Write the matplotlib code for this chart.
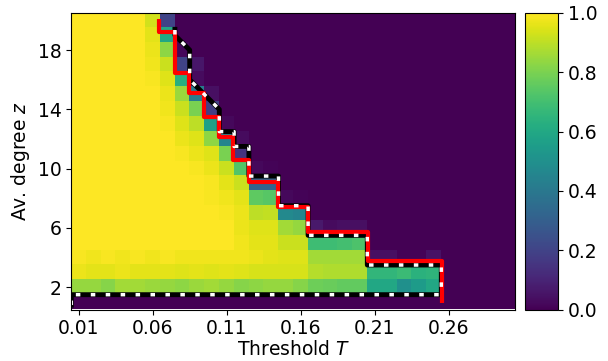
import numpy as np
import matplotlib.pyplot as plt

# threshold T (columns) and average degree z (rows)
T_vals = [0.01, 0.02, 0.03, 0.04, 0.05, 0.06, 0.07, 0.08, 0.09, 0.10,
          0.11, 0.12, 0.13, 0.14, 0.15, 0.16, 0.17, 0.18, 0.19, 0.20,
          0.21, 0.22, 0.23, 0.24, 0.25, 0.26, 0.27, 0.28, 0.29, 0.30]
z_vals = list(range(1, 21))

# cascade size, rows listed from z=20 (top) down to z=1 (bottom)
cascade_rows = [
    [1.00, 1.00, 1.00, 1.00, 1.00, 0.93, 0.20, 0.00, 0.00, 0.00, 0.00, 0.00, 0.00, 0.00, 0.00, 0.00, 0.00, 0.00, 0.00, 0.00, 0.00, 0.00, 0.00, 0.00, 0.00, 0.00, 0.00, 0.00, 0.00, 0.00],  # z=20
    [1.00, 1.00, 1.00, 1.00, 1.00, 0.96, 0.60, 0.00, 0.00, 0.00, 0.00, 0.00, 0.00, 0.00, 0.00, 0.00, 0.00, 0.00, 0.00, 0.00, 0.00, 0.00, 0.00, 0.00, 0.00, 0.00, 0.00, 0.00, 0.00, 0.00],  # z=19
    [1.00, 1.00, 1.00, 1.00, 1.00, 0.97, 0.83, 0.02, 0.00, 0.00, 0.00, 0.00, 0.00, 0.00, 0.00, 0.00, 0.00, 0.00, 0.00, 0.00, 0.00, 0.00, 0.00, 0.00, 0.00, 0.00, 0.00, 0.00, 0.00, 0.00],  # z=18
    [1.00, 1.00, 1.00, 1.00, 1.00, 0.98, 0.92, 0.20, 0.06, 0.00, 0.00, 0.00, 0.00, 0.00, 0.00, 0.00, 0.00, 0.00, 0.00, 0.00, 0.00, 0.00, 0.00, 0.00, 0.00, 0.00, 0.00, 0.00, 0.00, 0.00],  # z=17
    [1.00, 1.00, 1.00, 1.00, 1.00, 0.99, 0.95, 0.63, 0.03, 0.00, 0.00, 0.00, 0.00, 0.00, 0.00, 0.00, 0.00, 0.00, 0.00, 0.00, 0.00, 0.00, 0.00, 0.00, 0.00, 0.00, 0.00, 0.00, 0.00, 0.00],  # z=16
    [1.00, 1.00, 1.00, 1.00, 1.00, 1.00, 0.97, 0.85, 0.42, 0.04, 0.00, 0.00, 0.00, 0.00, 0.00, 0.00, 0.00, 0.00, 0.00, 0.00, 0.00, 0.00, 0.00, 0.00, 0.00, 0.00, 0.00, 0.00, 0.00, 0.00],  # z=15
    [1.00, 1.00, 1.00, 1.00, 1.00, 1.00, 0.98, 0.92, 0.80, 0.18, 0.00, 0.00, 0.00, 0.00, 0.00, 0.00, 0.00, 0.00, 0.00, 0.00, 0.00, 0.00, 0.00, 0.00, 0.00, 0.00, 0.00, 0.00, 0.00, 0.00],  # z=14
    [1.00, 1.00, 1.00, 1.00, 1.00, 1.00, 0.99, 0.95, 0.90, 0.57, 0.02, 0.00, 0.00, 0.00, 0.00, 0.00, 0.00, 0.00, 0.00, 0.00, 0.00, 0.00, 0.00, 0.00, 0.00, 0.00, 0.00, 0.00, 0.00, 0.00],  # z=13
    [1.00, 1.00, 1.00, 1.00, 1.00, 1.00, 1.00, 0.97, 0.95, 0.83, 0.45, 0.03, 0.00, 0.00, 0.00, 0.00, 0.00, 0.00, 0.00, 0.00, 0.00, 0.00, 0.00, 0.00, 0.00, 0.00, 0.00, 0.00, 0.00, 0.00],  # z=12
    [1.00, 1.00, 1.00, 1.00, 1.00, 1.00, 1.00, 0.99, 0.97, 0.95, 0.80, 0.15, 0.00, 0.00, 0.00, 0.00, 0.00, 0.00, 0.00, 0.00, 0.00, 0.00, 0.00, 0.00, 0.00, 0.00, 0.00, 0.00, 0.00, 0.00],  # z=11
    [1.00, 1.00, 1.00, 1.00, 1.00, 1.00, 1.00, 1.00, 0.99, 0.97, 0.92, 0.73, 0.02, 0.01, 0.00, 0.00, 0.00, 0.00, 0.00, 0.00, 0.00, 0.00, 0.00, 0.00, 0.00, 0.00, 0.00, 0.00, 0.00, 0.00],  # z=10
    [1.00, 1.00, 1.00, 1.00, 1.00, 1.00, 1.00, 1.00, 1.00, 0.99, 0.96, 0.92, 0.32, 0.32, 0.00, 0.00, 0.00, 0.00, 0.00, 0.00, 0.00, 0.00, 0.00, 0.00, 0.00, 0.00, 0.00, 0.00, 0.00, 0.00],  # z=9
    [1.00, 1.00, 1.00, 1.00, 1.00, 1.00, 1.00, 1.00, 1.00, 0.99, 0.98, 0.96, 0.75, 0.74, 0.02, 0.01, 0.00, 0.00, 0.00, 0.00, 0.00, 0.00, 0.00, 0.00, 0.00, 0.00, 0.00, 0.00, 0.00, 0.00],  # z=8
    [1.00, 1.00, 1.00, 1.00, 1.00, 1.00, 1.00, 1.00, 1.00, 1.00, 0.99, 0.97, 0.90, 0.91, 0.47, 0.45, 0.00, 0.00, 0.00, 0.00, 0.00, 0.00, 0.00, 0.00, 0.00, 0.00, 0.00, 0.00, 0.00, 0.00],  # z=7
    [1.00, 1.00, 1.00, 1.00, 1.00, 1.00, 1.00, 1.00, 1.00, 1.00, 1.00, 0.97, 0.95, 0.95, 0.86, 0.84, 0.07, 0.03, 0.04, 0.04, 0.00, 0.00, 0.00, 0.00, 0.00, 0.00, 0.00, 0.00, 0.00, 0.00],  # z=6
    [1.00, 1.00, 1.00, 1.00, 1.00, 1.00, 1.00, 1.00, 1.00, 1.00, 1.00, 0.98, 0.96, 0.96, 0.92, 0.92, 0.69, 0.69, 0.70, 0.72, 0.00, 0.00, 0.00, 0.00, 0.00, 0.00, 0.00, 0.00, 0.00, 0.00],  # z=5
    [0.99, 0.98, 0.99, 0.98, 0.99, 0.98, 0.99, 0.98, 0.98, 0.98, 0.98, 0.98, 0.97, 0.96, 0.95, 0.95, 0.86, 0.86, 0.86, 0.86, 0.04, 0.04, 0.01, 0.01, 0.05, 0.00, 0.00, 0.00, 0.00, 0.00],  # z=4
    [0.97, 0.96, 0.96, 0.97, 0.96, 0.96, 0.96, 0.95, 0.96, 0.95, 0.96, 0.95, 0.94, 0.94, 0.94, 0.94, 0.89, 0.88, 0.88, 0.88, 0.66, 0.66, 0.68, 0.64, 0.65, 0.00, 0.00, 0.00, 0.00, 0.00],  # z=3
    [0.84, 0.84, 0.82, 0.86, 0.86, 0.85, 0.84, 0.83, 0.85, 0.86, 0.84, 0.82, 0.83, 0.84, 0.84, 0.82, 0.78, 0.77, 0.76, 0.76, 0.60, 0.60, 0.50, 0.55, 0.60, 0.00, 0.00, 0.00, 0.00, 0.00],  # z=2
    [0.00] * 30,  # z=1
]

# theory window boundary (black/white dashed), vertices as (T, z)
dashed_T = [0.005, 0.005, 0.255, 0.255, 0.205, 0.205, 0.165, 0.165, 0.145, 0.145,
            0.125, 0.125, 0.115, 0.115, 0.105, 0.105, 0.085, 0.085, 0.075, 0.075]
dashed_z = [0.8, 1.5, 1.5, 3.5, 3.5, 5.5, 5.5, 7.5, 7.5, 9.5,
            9.5, 11.5, 11.5, 12.5, 12.5, 14.0, 16.0, 18.0, 19.0, 19.4]

# red step boundary: T where it steps, and z levels between steps
red_T_break = [0.064, 0.075, 0.0847, 0.0947, 0.105, 0.1145, 0.125, 0.145, 0.165, 0.2057, 0.2553]
red_z_level = [20.1, 19.24, 16.43, 15.08, 13.46, 12.16, 10.58, 9.1, 7.43, 5.73, 3.8, 0.92]

cascade = np.array(cascade_rows)[::-1]  # row 0 -> z=1


def to_col(T):  # T value -> image column index
    return np.asarray(T) * 100 - 1


def to_row(z):  # z value -> image row index
    return np.asarray(z) - 1


fig = plt.figure(figsize=(6.08, 3.61), dpi=100)
ax = fig.add_axes([71.3/608, 51.5/361, 444/608, 296.5/361])
im = ax.imshow(cascade, origin='lower', cmap='viridis', vmin=0, vmax=1,
               aspect='auto', interpolation='nearest')

ax.plot(to_col(dashed_T), to_row(dashed_z), color='k', lw=3.5)

rx, ry = [], []
for i, b in enumerate(red_T_break):
    rx += [b, b]
    ry += [red_z_level[i], red_z_level[i+1]]
ax.plot(to_col(rx), to_row(ry), color='red', lw=3, solid_capstyle='butt')

ax.plot(to_col(dashed_T), to_row(dashed_z), color='w', lw=2.5,
        linestyle=(0, (1.3, 3.0)))

ax.set_xlim(-0.5, len(T_vals) - 0.5)
ax.set_ylim(-0.5, len(z_vals) - 0.5)
ax.set_xticks(range(0, 30, 5))
ax.set_xticklabels(['%.2f' % T_vals[i] for i in range(0, 30, 5)])
ax.set_yticks(range(1, 20, 4))
ax.set_yticklabels([str(z_vals[i]) for i in range(1, 20, 4)])
ax.tick_params(labelsize=13.5)
ax.set_xlabel('Threshold $T$', fontsize=13.5, labelpad=1)
ax.set_ylabel('Av. degree $z$', fontsize=13.5)

cax = fig.add_axes([524.7/608, 51.5/361, 33.3/608, 296.5/361])
cb = fig.colorbar(im, cax=cax)
cb.set_ticks([0.0, 0.2, 0.4, 0.6, 0.8, 1.0])
cb.ax.tick_params(labelsize=13.5)

fig.savefig('out.png', dpi=100)
